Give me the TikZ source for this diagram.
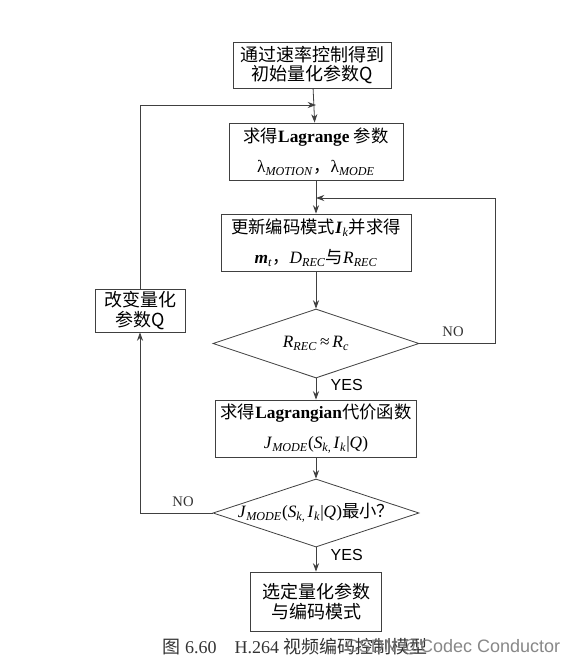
\documentclass[tikz,border=0pt]{standalone}
\usepackage{fontspec}
\setmainfont{Liberation Serif}
\newfontfamily\cjk{Noto Sans CJK SC}
\newfontfamily\yesfont{Liberation Sans}
\usetikzlibrary{arrows.meta,shapes.geometric,positioning}
\newcommand{\sbs}[2]{\textit{#1}\textsubscript{\textit{#2}}}

\begin{document}
\begin{tikzpicture}[x=0.75pt, y=-0.75pt]
    % --- Definitions ---
    % Centres of the steps (main axis at x = 316)
    \coordinate (c_init) at (312, 65);
    \coordinate (c_lambda) at (316, 151.5);
    \coordinate (c_update) at (316, 242.5);
    \coordinate (c_rate) at (316, 343.5);
    \coordinate (c_cost) at (316, 428.5);
    \coordinate (c_min) at (316, 513);
    \coordinate (c_final) at (316, 601.5);
    \coordinate (c_changeq) at (140, 310.5);

    % Join points of the two loops
    \coordinate (join_q) at (316, 105);
    \coordinate (join_rate) at (316, 198);

    % --- Styles ---
    \tikzstyle{proc_box}=[
        draw=black!75,
        line width=0.6pt,
        rectangle,
        align=center,
        inner sep=1pt,
        font=\fontsize{13}{23}\selectfont
    ]
    \tikzstyle{tight_box}=[proc_box, font=\fontsize{13.5}{14.5}\selectfont\cjk]
    % Text of the tests runs close to the edges, so the text box is shrunk
    \tikzstyle{test_dia}=[
        draw=black!75,
        line width=0.6pt,
        diamond,
        aspect=3,
        inner xsep=-14pt,
        inner ysep=0pt,
        font=\fontsize{13}{15}\selectfont
    ]
    \tikzstyle{flow_arrow}=[
        ->,
        >={Stealth[length=2.2mm, width=1.6mm]},
        draw=black!75,
        line width=0.6pt
    ]
    \tikzstyle{no_label}=[font=\fontsize{11}{13}\selectfont, text=black!80]
    \tikzstyle{yes_label}=[font=\fontsize{12}{14}\selectfont\yesfont, text=black]

    \fill[white] (0,0) rectangle (577,663);
    \useasboundingbox (0,0) rectangle (577,663);

    % --- 1. Steps ---
    \node[tight_box, minimum width=118.5pt, minimum height=34.5pt] (init) at (c_init)
        {通过速率控制得到\\初始量化参数Q};
    \node[proc_box, minimum width=130.5pt, minimum height=42.75pt] (lambda) at (c_lambda)
        {{\cjk 求得}\textbf{Lagrange} {\cjk 参数}\\
         λ\textsubscript{\textit{MOTION}}{\cjk ，}λ\textsubscript{\textit{MODE}}};
    \node[proc_box, minimum width=142.5pt, minimum height=42.75pt] (update) at (c_update)
        {{\cjk 更新编码模式}\textbf{\textit{I}}\textsubscript{\textit{k}}{\cjk 并求得}\\
         \textbf{\textit{m}}\textsubscript{\textit{t}}{\cjk ，}\sbs{D}{REC}{\cjk 与}\sbs{R}{REC}};
    \node[test_dia, minimum width=154.5pt, minimum height=51.75pt] (rate) at (c_rate)
        {\sbs{R}{REC}\,≈\,\sbs{R}{c}};
    \node[proc_box, minimum width=150.75pt, minimum height=42.75pt] (cost) at (c_cost)
        {{\cjk 求得}\textbf{Lagrangian}{\cjk 代价函数}\\
         \sbs{J}{MODE}(\sbs{S}{k,\,}\sbs{I}{k}|\textit{Q})};
    \node[test_dia, minimum width=154.5pt, minimum height=51pt] (min) at (c_min)
        {\sbs{J}{MODE}(\sbs{S}{k,\,}\sbs{I}{k}|\textit{Q}){\cjk 最小？}};
    \node[tight_box, minimum width=98.25pt, minimum height=44.25pt] (final) at (c_final)
        {选定量化参数\\与编码模式};
    \node[tight_box, minimum width=67.5pt, minimum height=32.25pt] (changeq) at (c_changeq)
        {改变量化\\参数Q};

    % --- 2. Main flow ---
    \draw[flow_arrow] (init) -- (lambda);
    \draw[flow_arrow] (lambda) -- (update);
    \draw[flow_arrow] (update) -- (rate);
    \draw[flow_arrow] (rate) -- (cost);
    \draw[flow_arrow] (cost) -- (min);
    \draw[flow_arrow] (min) -- (final);
    \node[yes_label, anchor=west] (yes_rate) at (326, 385) {YES};
    \node[yes_label, anchor=west] (yes_min) at (326, 555) {YES};

    % --- 3. Loops ---
    % Rate not matched: update the mode again
    \draw[flow_arrow] (rate.east) -- ++(76, 0) |- (join_rate);
    \node[no_label] (no_rate) at (453, 332) {NO};

    % Cost not minimal: change Q and start over
    \draw[flow_arrow] (min.west) -| (changeq.south);
    \draw[flow_arrow] (changeq.north) |- (join_q);
    \node[no_label] (no_min) at (183, 502) {NO};

    % --- 4. Caption ---
    \node[font=\fontsize{13.5}{15}\selectfont, text=black!80, anchor=west] (caption) at (158, 647)
        {{\cjk 图} 6.60\quad H.264 {\cjk 视频编码控制模型}};
    \node[font=\fontsize{13.5}{15}\selectfont\yesfont, text=black!55, opacity=0.85] (watermark) at (453, 647)
        {CSDN @Codec Conductor};

\end{tikzpicture}
\end{document}
